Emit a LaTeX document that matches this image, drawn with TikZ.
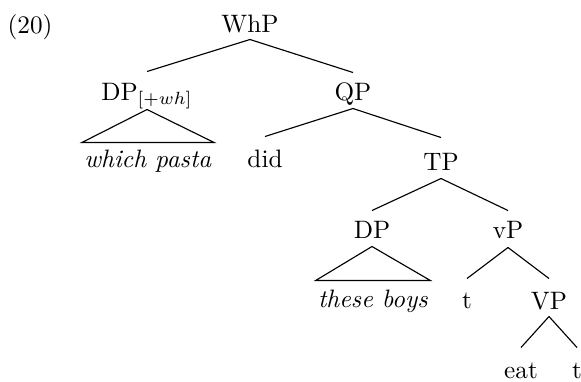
\documentclass[tikz,border=0pt]{standalone}
\newlength{\pxu}
\setlength{\pxu}{0.3968pt}
\begin{document}
\begin{tikzpicture}[
  x=\pxu, y=-\pxu,
  % label placed on its baseline; #1 = room above the baseline, #2 = room below
  tn/.style n args={2}{anchor=base, inner xsep=0pt, inner ysep=0pt,
    text height=#1\pxu, text depth=#2\pxu},
  leaf/.style={anchor=base, inner xsep=2\pxu, inner ysep=0pt,
    text height=#1\pxu, text depth=0pt},
  edge/.style={line width=0.45pt}
]
\useasboundingbox (0,0) rectangle (581,381);

\node[anchor=base, inner sep=0pt] (ex) at (30,33) {(20)};

% nodes
\node[tn={20}{7}]  (whp)  at (250,32)  {WhP};
\node[tn={28}{9}]  (dpwh) at (147,100) {DP$_{[+wh]}$};
\node[tn={27}{8}]  (qp)   at (353,100) {QP};
\node[leaf=24]     (wp)   at (148,167) {\textit{which pasta}};
\node[tn={30}{0}]  (did)  at (265,167) {did};
\node[tn={32}{8}]  (tp)   at (441,170) {TP};
\node[tn={27}{8}]  (dp)   at (372,238) {DP};
\node[tn={27}{9}]  (vp)   at (508,238) {vP};
\node[leaf=26]     (tb)   at (373,307) {\textit{these boys}};
\node[tn={29}{0}]  (ta)   at (467,308) {t};
\node[tn={30}{7}]  (bigvp) at (549,309) {VP};
\node[tn={30}{0}]  (eat)  at (521,378) {eat};
\node[tn={30}{0}]  (tz)   at (577,378) {t};

% branches
\draw[edge] (whp.south) -- (dpwh.north);
\draw[edge] (whp.south) -- (qp.north);
\draw[edge] (dpwh.south) -- (wp.north west) -- (wp.north east) -- cycle;
\draw[edge] (qp.south) -- (did.north);
\draw[edge] (qp.south) -- (tp.north);
\draw[edge] (tp.south) -- (dp.north);
\draw[edge] (tp.south) -- (vp.north);
\draw[edge] (dp.south) -- (tb.north west) -- (tb.north east) -- cycle;
\draw[edge] (vp.south) -- (ta.north);
\draw[edge] (vp.south) -- (bigvp.north);
\draw[edge] (bigvp.south) -- (eat.north);
\draw[edge] (bigvp.south) -- (tz.north);
\end{tikzpicture}
\end{document}
